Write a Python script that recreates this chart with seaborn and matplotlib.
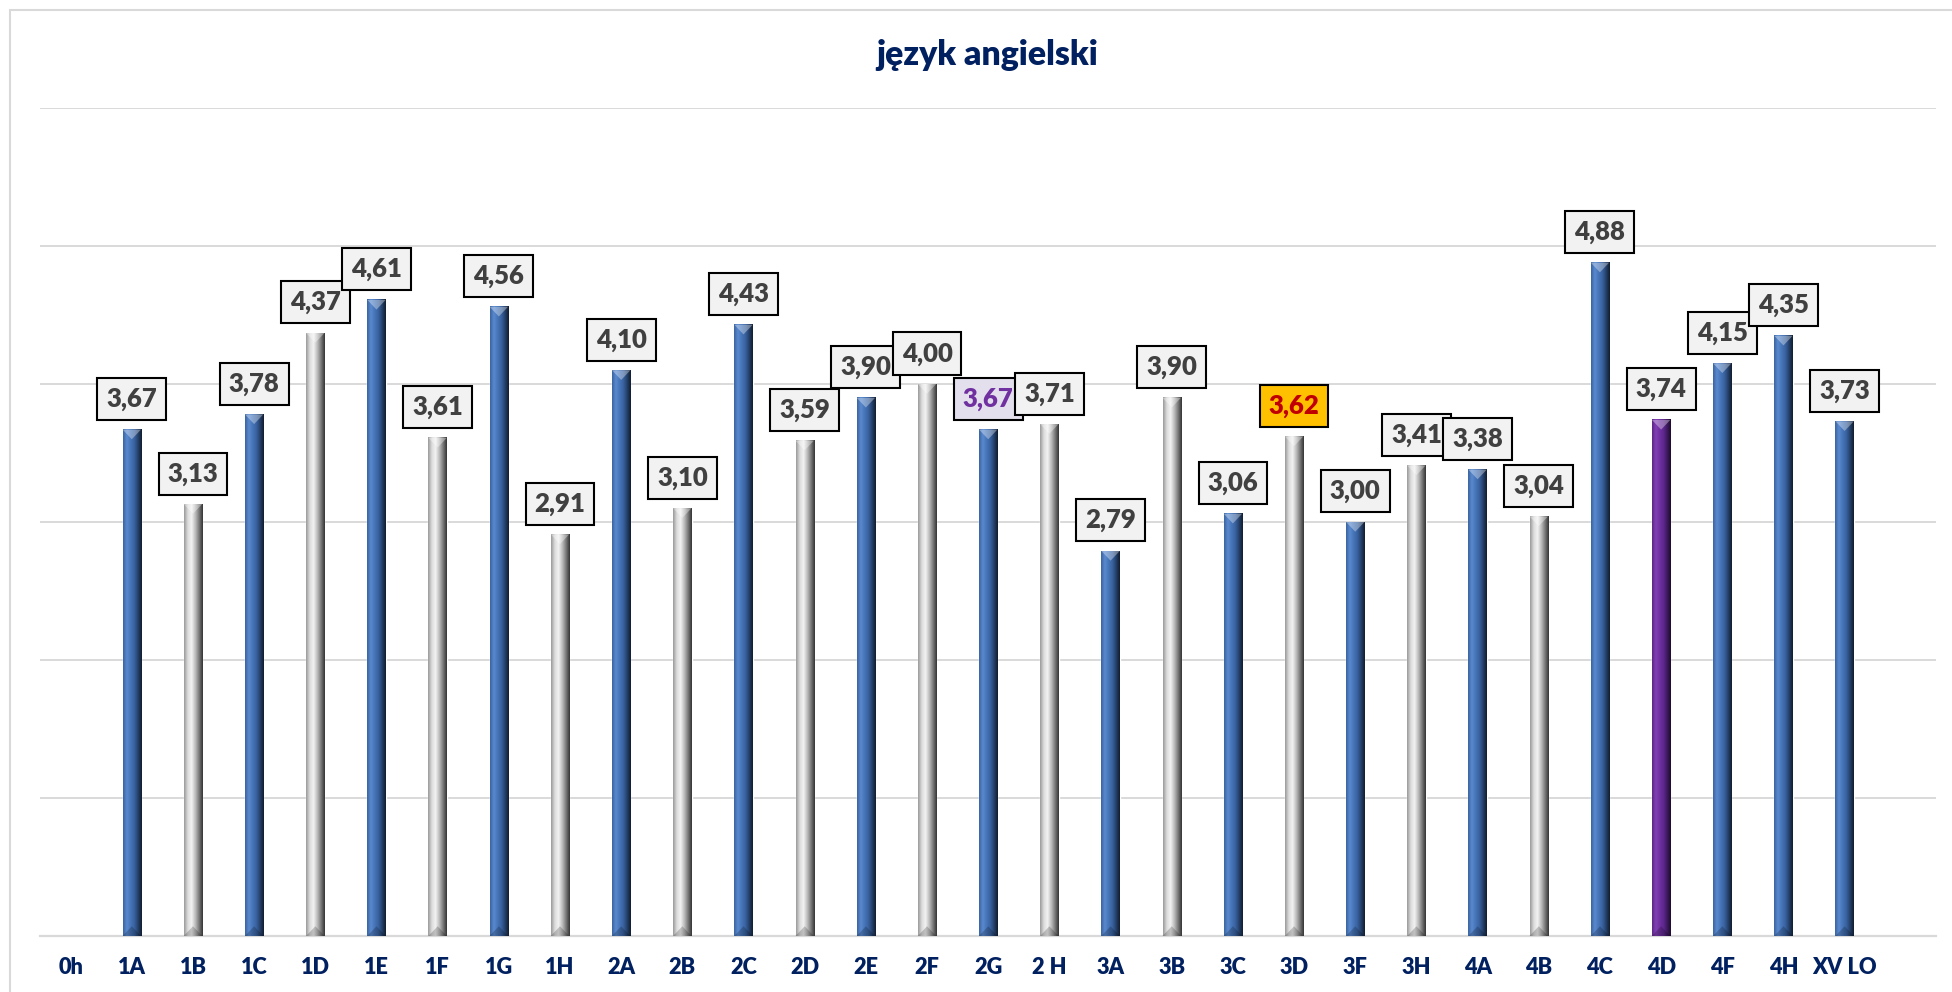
import numpy as np
import pandas as pd
import matplotlib
matplotlib.use("Agg")
import matplotlib.pyplot as plt
import seaborn as sns
from matplotlib import font_manager as fm
from matplotlib.colors import LinearSegmentedColormap, to_hex
from matplotlib.patches import Polygon, Rectangle

# data
classes = ["0h", "1A", "1B", "1C", "1D", "1E", "1F", "1G", "1H", "2A", "2B", "2C",
           "2D", "2E", "2F", "2G", "2 H", "3A", "3B", "3C", "3D", "3F", "3H", "4A",
           "4B", "4C", "4D", "4F", "4H", "XV LO"]
averages = [None, 3.67, 3.13, 3.78, 4.37, 4.61, 3.61, 4.56, 2.91, 4.10, 3.10, 4.43,
            3.59, 3.90, 4.00, 3.67, 3.71, 2.79, 3.90, 3.06, 3.62, 3.00, 3.41, 3.38,
            3.04, 4.88, 3.74, 4.15, 4.35, 3.73]
bar_kind = ["blue", "blue", "gray", "blue", "gray", "blue", "gray", "blue", "gray", "blue",
            "gray", "blue", "gray", "blue", "gray", "blue", "gray", "blue", "gray", "blue",
            "gray", "blue", "gray", "blue", "gray", "blue", "purple", "blue", "blue", "blue"]
label_style = {"2G": ("#E4DFEC", "#7030A0"), "3D": ("#FFC000", "#C00000")}

title = "język angielski"
navy = "#002060"

base_colors = {"blue": "#4472c4", "gray": "#bfbfbf", "purple": "#7030a0"}
gradients = {
    "#4472c4": ["#3a659f", "#5a89cf", "#4675b8", "#3a62a0", "#25416b", "#111d30"],
    "#bfbfbf": ["#9a9a9a", "#dcdcdc", "#f2f2f2", "#bdbdbd", "#7a7a7a", "#353535"],
    "#7030a0": ["#5e2688", "#8040b4", "#7030a0", "#5f2890", "#3f1a60", "#1e0c2e"],
}


def bold_file(name):
    # heaviest static face of the family, up to "heavy"
    best = None
    for f in fm.fontManager.ttflist:
        w = f.weight if not isinstance(f.weight, str) else fm.weight_dict.get(f.weight, 400)
        if f.name == name and f.style == "normal" and 600 <= w <= 800:
            if best is None or w > best[0]:
                best = (w, f.fname)
    return best[1] if best else None


font_path = None
for name in ["Lato", "Noto Sans", "Liberation Sans", "DejaVu Sans"]:
    font_path = bold_file(name)
    if font_path:
        break
bold = fm.FontProperties(fname=font_path) if font_path else fm.FontProperties(weight="bold")

df = pd.DataFrame({"klasa": classes, "srednia": averages, "kind": bar_kind}).dropna()
palette = {c: base_colors[k] for c, k in zip(classes, bar_kind)}

sns.set_style("white")

fig = plt.figure(figsize=(19.52, 9.92), dpi=100)
renderer = fig.canvas.get_renderer()


def fit_size(text, target_px, size0=20):
    fp = bold.copy()
    fp.set_size(size0)
    t = fig.text(0, 0, text, fontproperties=fp)
    w = t.get_window_extent(renderer=renderer).width
    t.remove()
    return size0 * target_px / w


def sized(size):
    fp = bold.copy()
    fp.set_size(size)
    return fp


label_fp = sized(fit_size("3,13", 51))
tick_fp = sized(fit_size("0h", 25))
title_fp = sized(fit_size(title, 222))

ax = fig.add_axes([0.0205, 0.0565, 0.9715, 0.8345])

sns.barplot(data=df, x="klasa", y="srednia", hue="klasa", order=classes,
            palette=palette, saturation=1, width=0.3, legend=False, ax=ax, zorder=2)

grad = np.linspace(0, 1, 64).reshape(1, -1)
for p in list(ax.patches):
    h = p.get_height()
    if not np.isfinite(h) or h <= 0:
        continue
    x0, w = p.get_x(), p.get_width()
    base = to_hex(p.get_facecolor())
    cmap = LinearSegmentedColormap.from_list(base, gradients[base])
    ax.imshow(grad, extent=(x0, x0 + w, 0, h), aspect="auto", cmap=cmap,
              interpolation="bilinear", zorder=3)
    # bevel at the top and bottom of each bar
    d = 0.07
    ax.add_patch(Polygon([(x0, h), (x0 + w, h), (x0 + w / 2, h - d)], closed=True,
                         facecolor="white", alpha=0.35, lw=0, zorder=4))
    ax.add_patch(Polygon([(x0, 0), (x0 + w, 0), (x0 + w / 2, d)], closed=True,
                         facecolor="black", alpha=0.2, lw=0, zorder=4))

    cls = classes[int(round(x0 + w / 2))]
    face, txt = label_style.get(cls, ("#F2F2F2", "#404040"))
    ax.annotate(f"{h:.2f}".replace(".", ","), (x0 + w / 2, h), xytext=(0, 22),
                textcoords="offset points", ha="center", va="center",
                fontproperties=label_fp, color=txt, zorder=6,
                bbox=dict(boxstyle="square,pad=0.35", fc=face, ec="black", lw=1.5))

ax.set_xlim(-0.5, len(classes) + 0.5)
ax.set_ylim(0, 6)
ax.set_yticks(range(0, 7))
ax.set_yticklabels([])
ax.yaxis.grid(True, color="#d9d9d9", lw=1.4)
ax.set_axisbelow(True)
ax.tick_params(axis="y", length=0)
ax.tick_params(axis="x", length=0, pad=15, labelcolor=navy)
for t in ax.get_xticklabels():
    t.set_fontproperties(tick_fp)
for s in ["top", "right", "left"]:
    ax.spines[s].set_visible(False)
ax.spines["bottom"].set_color("#d9d9d9")
ax.spines["bottom"].set_linewidth(1.6)
ax.set_xlabel("")
ax.set_ylabel("")

fig.text(987 / 1952, 1 - 65 / 992, title, ha="center", va="baseline",
         fontproperties=title_fp, color=navy)

fig.patches.append(Rectangle((10 / 1952, -0.05), 1.1, 1 - 10 / 992 + 0.05,
                             transform=fig.transFigure, fill=False,
                             ec="#d9d9d9", lw=1.5))

fig.savefig("out.png", dpi=100)
